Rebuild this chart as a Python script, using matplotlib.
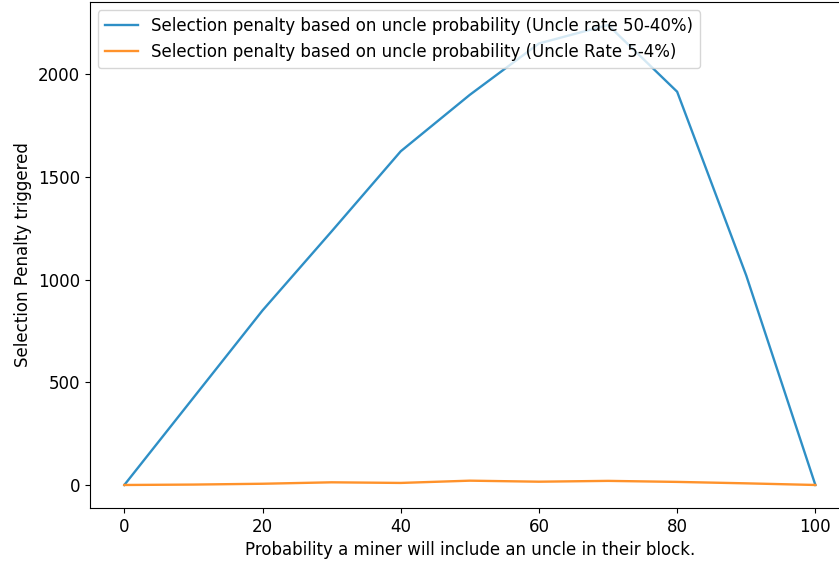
import matplotlib
matplotlib.use("Agg")
import matplotlib.pyplot as plt

prob = [0, 10, 20, 30, 40, 50, 60, 70, 80, 90, 100]
penalty_high = [0, 425, 850, 1235, 1625, 1900, 2150, 2240, 1915, 1020, 0]
penalty_low = [0, 2, 6, 13, 10, 21, 16, 20, 15, 8, 0]

plt.rcParams["font.size"] = 12

fig = plt.figure(figsize=(8.39, 5.66), dpi=100)
ax = fig.add_axes([0.107, 0.1025, 0.906, 0.894])

ax.plot(prob, penalty_high, color="#2e8fc6", lw=1.7,
        label="Selection penalty based on uncle probability (Uncle rate 50-40%)")
ax.plot(prob, penalty_low, color="#ff922b", lw=1.7,
        label="Selection penalty based on uncle probability (Uncle Rate 5-4%)")
ax.set_xlabel("Probability a miner will include an uncle in their block.")
ax.set_ylabel("Selection Penalty triggered")
ax.legend(loc="upper left")

fig.savefig("out.png")
